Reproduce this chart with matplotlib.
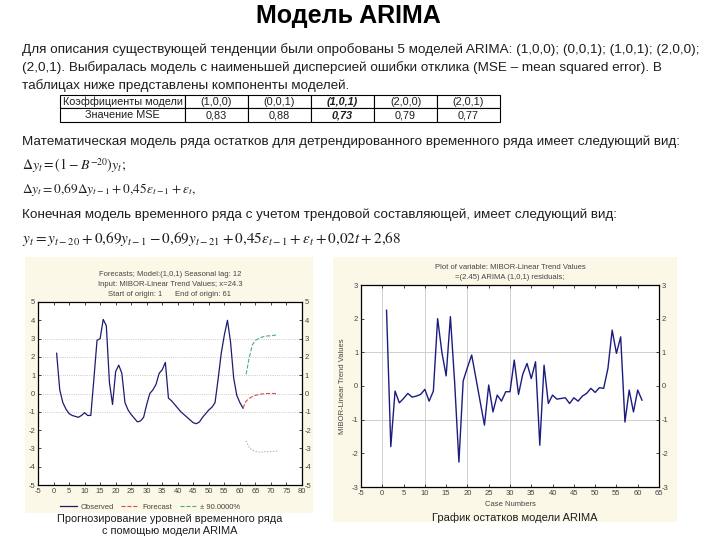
import numpy as np
import matplotlib
matplotlib.use('Agg')
from matplotlib import pyplot as plt
from matplotlib.patches import Rectangle
from matplotlib.lines import Line2D

plt.rcParams['font.family'] = ['Liberation Sans', 'DejaVu Sans']
plt.rcParams['mathtext.fontset'] = 'stix'
plt.rcParams['axes.unicode_minus'] = False

W, H = 720, 540

# table of tried models
model_orders = ['(1,0,0)', '(0,0,1)', '(1,0,1)', '(2,0,0)', '(2,0,1)']
mse_values = ['0,83', '0,88', '0,73', '0,79', '0,77']
best_model = 2

# forecast chart: observed detrended series
obs_t = np.arange(1, 62)
obs_y = [2.2, 0.2, -0.5, -0.85, -1.1, -1.2, -1.25, -1.3, -1.2, -1.05,
         -1.2, -1.2, 0.8, 2.9, 3.0, 4.05, 3.7, 0.6, -0.6, 1.2,
         1.55, 1.1, -0.5, -0.9, -1.15, -1.35, -1.55, -1.5, -1.3, -0.6,
         0.0, 0.2, 0.5, 1.1, 1.3, 1.7, -0.25, -0.4, -0.6, -0.8,
         -1.0, -1.15, -1.3, -1.45, -1.6, -1.65, -1.55, -1.3, -1.1, -0.9,
         -0.75, -0.5, 0.8, 2.2, 3.2, 4.0, 2.8, 0.85, -0.1, -0.5,
         -0.8]
fc_t = np.arange(61, 73)
fc_y = [-0.8, -0.42, -0.27, -0.17, -0.1, -0.06, -0.03, -0.01, 0.0, 0.0, 0.0, 0.0]
band_t = np.arange(62, 73)
band_up = [1.05, 1.95, 2.65, 2.9, 3.0, 3.08, 3.12, 3.15, 3.15, 3.18, 3.2]
band_lo = [-2.6, -2.95, -3.1, -3.15, -3.2, -3.2, -3.18, -3.18, -3.17, -3.16, -3.15]

# residuals of ARIMA(1,0,1)
res_t = np.arange(1, 62)
res_y = [2.25, -1.8, -0.15, -0.5, -0.37, -0.22, -0.33, -0.3, -0.25, -0.1,
         -0.45, -0.15, 2.0, 1.0, 0.3, 2.06, 0.1, -2.26, 0.15, 0.55,
         0.92, 0.23, -0.47, -1.16, 0.03, -0.77, -0.27, -0.45, -0.17, -0.17,
         0.77, -0.25, 0.35, 0.67, 0.22, 0.72, -1.76, 0.62, -0.52, -0.27,
         -0.39, -0.37, -0.35, -0.52, -0.35, -0.45, -0.3, -0.22, -0.07, -0.19,
         -0.05, -0.07, 0.52, 1.66, 0.97, 1.46, -1.07, -0.12, -0.77, -0.12,
         -0.42]


def px(x, y):
    return x / W, 1 - y / H


def box(x0, y0, x1, y1):
    return [x0 / W, 1 - y1 / H, (x1 - x0) / W, (y1 - y0) / H]


fig = plt.figure(figsize=(7.2, 5.4), dpi=100)
ink = '#1e1e1e'
body = 9.7

fig.text(*px(348, 16), 'Модель ARIMA', fontsize=18, fontweight='bold',
         ha='center', va='center', color='black')

para = ['Для описания существующей тенденции были опробованы 5 моделей ARIMA: (1,0,0); (0,0,1); (1,0,1); (2,0,0);',
        '(2,0,1). Выбиралась модель с наименьшей дисперсией ошибки отклика (MSE – mean squared error). В',
        'таблицах ниже представлены компоненты моделей.']
for i, line in enumerate(para):
    fig.text(*px(22, 50 + 18 * i), line, fontsize=body, va='center', color=ink)

# table
tax = fig.add_axes(box(60, 95, 500, 122))
tax.axis('off')
cells = [['Коэффициенты модели'] + model_orders, ['Значение MSE'] + mse_values]
tbl = tax.table(cellText=cells, bbox=[0, 0, 1, 1],
                colWidths=[125] + [63] * 5, cellLoc='center')
tbl.auto_set_font_size(False)
for (r, c), cell in tbl.get_celld().items():
    cell.set_linewidth(0.8)
    cell.get_text().set_fontsize(7.8)
    cell.get_text().set_color(ink)
    if c == best_model + 1:
        cell.get_text().set_fontweight('bold')
        cell.get_text().set_fontstyle('italic')

fig.text(*px(22, 142), 'Математическая модель ряда остатков для детрендированного временного ряда имеет следующий вид:',
         fontsize=body, va='center', color=ink)
fig.text(*px(22, 166), r'$\Delta y_t = \left(1 - B^{-20}\right) y_t;$',
         fontsize=10, va='center', color=ink)
fig.text(*px(22, 190), r'$\Delta y_t = 0{,}69\Delta y_{t-1} + 0{,}45\varepsilon_{t-1} + \varepsilon_t,$',
         fontsize=9.6, va='center', color=ink)
fig.text(*px(22, 215), 'Конечная модель временного ряда с учетом трендовой составляющей, имеет следующий вид:',
         fontsize=body, va='center', color=ink)
fig.text(*px(22, 239),
         r'$y_t = y_{t-20} + 0{,}69y_{t-1} - 0{,}69y_{t-21} + 0{,}45\varepsilon_{t-1} + \varepsilon_t + 0{,}02t + 2{,}68$',
         fontsize=11, va='center', color=ink)

# cream panels behind the two charts
cream = '#fbf8e7'
for x0, y0, x1, y1 in [(25, 257, 313, 513), (333, 257, 677, 522)]:
    fig.patches.append(Rectangle((x0 / W, 1 - y1 / H), (x1 - x0) / W, (y1 - y0) / H,
                                 transform=fig.transFigure, facecolor=cream,
                                 edgecolor='none', zorder=-5))

lab = '#444444'

# left chart: forecasts
ax1 = fig.add_axes(box(38, 302, 302, 485))
ax1.set_xlim(-5, 80)
ax1.set_ylim(-5, 5)
ax1.set_xticks(np.arange(-5, 81, 5))
ax1.set_yticks(np.arange(-5, 6, 1))
for gy in [3, 2, 1, 0, -1]:
    ax1.axhline(gy, color='#b8b8b8', lw=0.6, ls=':', zorder=0)
ax1.plot(obs_t, obs_y, color='#1c1c70', lw=0.9)
ax1.plot(fc_t, fc_y, color='#d94b4b', lw=0.8, ls='--')
ax1.plot(band_t, band_up, color='#4fa79c', lw=0.8, ls='--')
ax1.plot(band_t, band_lo, color='#8fa8a5', lw=0.8, ls=':')
ax1.tick_params(direction='in', length=2, width=0.5, labelsize=5.5, labelcolor=lab,
                top=True, right=True, labelright=True, pad=2)
for s in ax1.spines.values():
    s.set_linewidth(0.9)
ax1.set_title('Forecasts; Model:(1,0,1) Seasonal lag: 12\n'
              'Input: MIBOR-Linear Trend Values; x=24.3\n'
              'Start of origin: 1      End of origin: 61',
              fontsize=5.5, color=lab, linespacing=1.6, pad=4)
handles = [Line2D([], [], color='#1c1c70', lw=0.9),
           Line2D([], [], color='#d94b4b', lw=0.8, ls='--'),
           Line2D([], [], color='#4fa79c', lw=0.8, ls='--')]
fig.legend(handles, ['Observed', 'Forecast', '± 90.0000%'], loc='center',
           bbox_to_anchor=px(150, 507), ncol=3, frameon=False, fontsize=5.5,
           handlelength=2.2, columnspacing=1.0, handletextpad=0.5, labelcolor=lab)
fig.text(*px(170, 519), 'Прогнозирование уровней временного ряда', fontsize=7.9,
         ha='center', va='center', color=ink)
fig.text(*px(170, 531), 'с помощью модели ARIMA', fontsize=7.9,
         ha='center', va='center', color=ink)

# right chart: residuals
ax2 = fig.add_axes(box(361, 285, 659, 487))
ax2.set_xlim(-5, 65)
ax2.set_ylim(-3, 3)
ax2.set_xticks(np.arange(-5, 66, 5))
ax2.set_yticks(np.arange(-3, 4, 1))
for gx in [0, 10, 20, 30]:
    ax2.axvline(gx, color='#cfcfcf', lw=0.7, zorder=0)
for gy in [1, -1]:
    ax2.axhline(gy, color='#cfcfcf', lw=0.7, zorder=0)
ax2.plot(res_t, res_y, color='#1c1c80', lw=1.0)
ax2.tick_params(direction='in', length=2, width=0.5, labelsize=5.5, labelcolor=lab,
                top=True, right=True, labelright=True, pad=2)
for s in ax2.spines.values():
    s.set_linewidth(0.9)
ax2.set_title('Plot of variable: MIBOR-Linear Trend Values\n'
              '=(2.45) ARIMA (1,0,1) residuals;',
              fontsize=5.5, color=lab, linespacing=1.6, pad=4)
ax2.set_xlabel('Case Numbers', fontsize=5.5, color=lab, labelpad=3)
ax2.set_ylabel('MIBOR-Linear Trend Values', fontsize=5.5, color=lab, labelpad=4)
fig.text(*px(515, 518), 'График остатков модели ARIMA', fontsize=8.0,
         ha='center', va='center', color=ink)

fig.savefig('out.png', dpi=100, facecolor='white')
